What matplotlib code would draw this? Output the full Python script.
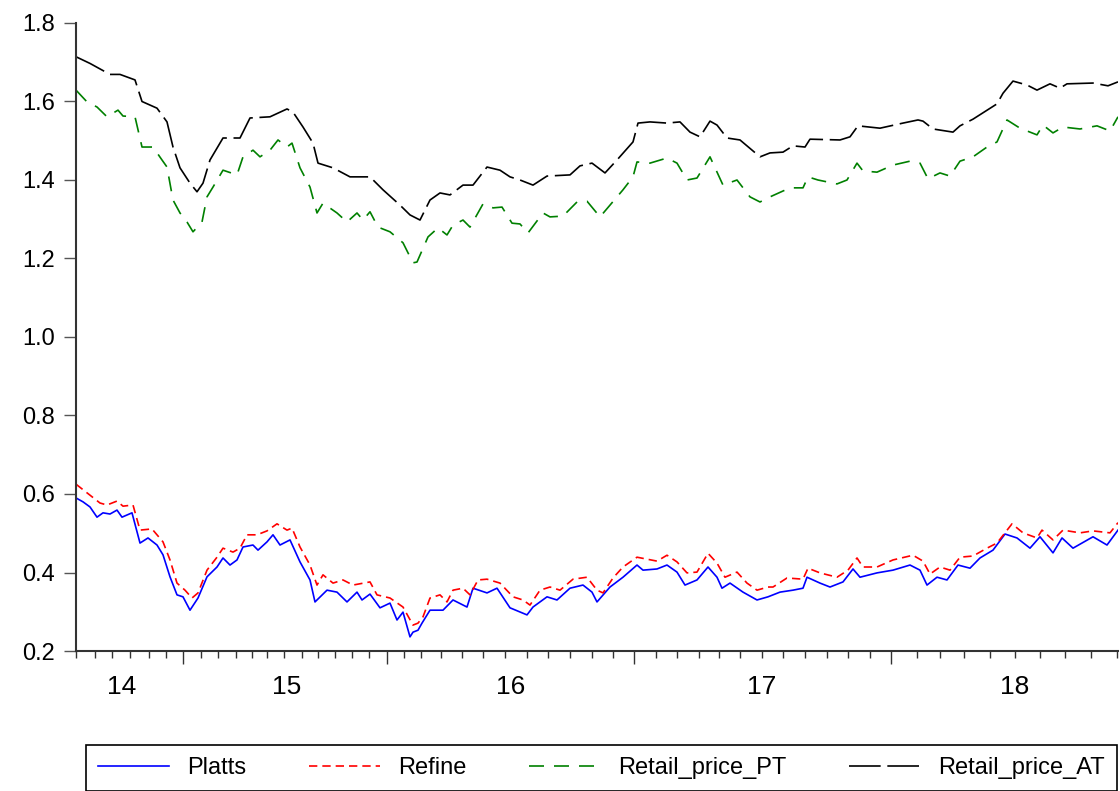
import matplotlib.pyplot as plt
from matplotlib.lines import Line2D

plt.rcParams['font.family'] = ['Liberation Sans', 'DejaVu Sans']

# observation index along the sample (Jul 2014 .. Oct 2018)
platts_obs = [0, 7, 14, 21, 27, 34, 41, 46, 56, 64, 72, 81, 87, 94, 101, 107, 114, 122, 131, 141,
              147, 154, 161, 167, 177, 182, 191, 197, 204, 214, 224, 234, 239, 251, 261, 271, 281,
              286, 294, 304, 314, 321, 327, 334, 337, 342, 346, 354, 367, 377, 391, 397, 411, 421,
              434, 451, 457, 471, 481, 494, 507, 516, 521, 534, 547, 561, 567, 581, 591, 601, 609,
              621, 632, 641, 646, 654, 667, 681, 692, 704, 717, 727, 731, 744, 754, 767, 777, 784,
              801, 817, 834, 844, 851, 861, 871, 882, 894, 904, 917, 929, 941, 954, 964, 977, 986,
              997, 1017, 1031, 1042]
platts = [0.590, 0.580, 0.567, 0.541, 0.552, 0.549, 0.559, 0.541, 0.552, 0.475, 0.488, 0.470, 0.445,
          0.389, 0.343, 0.338, 0.304, 0.335, 0.389, 0.414, 0.437, 0.419, 0.432, 0.465, 0.470, 0.457,
          0.478, 0.496, 0.470, 0.483, 0.427, 0.381, 0.325, 0.355, 0.350, 0.325, 0.350, 0.330, 0.345,
          0.310, 0.322, 0.279, 0.299, 0.236, 0.248, 0.253, 0.271, 0.304, 0.304, 0.330, 0.312, 0.360,
          0.348, 0.360, 0.310, 0.292, 0.312, 0.338, 0.330, 0.360, 0.368, 0.350, 0.325, 0.363, 0.388,
          0.419, 0.406, 0.409, 0.419, 0.401, 0.368, 0.381, 0.414, 0.388, 0.360, 0.373, 0.350, 0.330,
          0.338, 0.350, 0.355, 0.360, 0.388, 0.373, 0.363, 0.376, 0.409, 0.388, 0.399, 0.406, 0.419,
          0.406, 0.368, 0.388, 0.381, 0.419, 0.411, 0.437, 0.457, 0.498, 0.488, 0.462, 0.491, 0.450,
          0.488, 0.462, 0.491, 0.470, 0.508]

refine_obs = [0, 14, 24, 31, 41, 47, 57, 64, 76, 87, 94, 101, 109, 116, 122, 131, 141, 147, 157, 164,
              171, 181, 191, 201, 211, 216, 224, 234, 241, 247, 257, 267, 277, 294, 301, 314, 327,
              337, 342, 347, 354, 364, 371, 377, 387, 394, 402, 411, 424, 437, 447, 454, 464, 474,
              484, 497, 511, 521, 527, 537, 547, 561, 571, 581, 591, 601, 611, 621, 632, 641, 649,
              661, 671, 681, 692, 697, 711, 727, 732, 744, 761, 772, 781, 787, 801, 817, 837, 847,
              854, 864, 874, 884, 897, 911, 921, 936, 947, 961, 966, 977, 987, 1004, 1017, 1034, 1042]
refine = [0.625, 0.597, 0.577, 0.572, 0.582, 0.569, 0.572, 0.508, 0.511, 0.478, 0.432, 0.373, 0.355,
          0.335, 0.348, 0.406, 0.439, 0.462, 0.452, 0.462, 0.496, 0.496, 0.506, 0.524, 0.508, 0.513,
          0.465, 0.419, 0.368, 0.394, 0.373, 0.381, 0.368, 0.376, 0.343, 0.335, 0.312, 0.266, 0.271,
          0.287, 0.335, 0.343, 0.325, 0.355, 0.360, 0.343, 0.381, 0.383, 0.373, 0.338, 0.330, 0.317,
          0.355, 0.363, 0.355, 0.383, 0.388, 0.355, 0.348, 0.386, 0.414, 0.439, 0.434, 0.429, 0.444,
          0.427, 0.399, 0.401, 0.449, 0.424, 0.388, 0.401, 0.373, 0.355, 0.363, 0.363, 0.386, 0.383,
          0.411, 0.399, 0.388, 0.406, 0.437, 0.414, 0.414, 0.432, 0.444, 0.429, 0.396, 0.414, 0.406,
          0.439, 0.442, 0.462, 0.475, 0.524, 0.501, 0.488, 0.508, 0.483, 0.508, 0.501, 0.506, 0.501,
          0.527]

pt_obs = [0, 11, 21, 31, 42, 47, 59, 66, 77, 86, 91, 97, 104, 111, 117, 126, 131, 137, 147, 161, 167,
          177, 184, 194, 202, 211, 216, 224, 234, 241, 247, 261, 271, 281, 287, 294, 302, 314, 327,
          337, 341, 352, 362, 371, 377, 387, 394, 407, 417, 426, 436, 444, 452, 467, 474, 487, 501,
          511, 524, 534, 547, 557, 561, 574, 591, 601, 611, 621, 634, 647, 661, 674, 684, 694, 714,
          727, 732, 742, 761, 771, 781, 787, 801, 817, 834, 844, 852, 864, 874, 884, 897, 911, 921,
          931, 944, 961, 967, 977, 987, 1004, 1021, 1034, 1042]
retail_pt = [1.629, 1.599, 1.586, 1.561, 1.578, 1.563, 1.561, 1.484, 1.484, 1.451, 1.433, 1.349, 1.316,
             1.293, 1.268, 1.293, 1.357, 1.382, 1.425, 1.413, 1.459, 1.476, 1.459, 1.476, 1.502, 1.484,
             1.494, 1.431, 1.382, 1.316, 1.341, 1.316, 1.293, 1.316, 1.298, 1.319, 1.280, 1.268, 1.240,
             1.189, 1.191, 1.255, 1.278, 1.260, 1.285, 1.298, 1.280, 1.339, 1.329, 1.331, 1.290, 1.288,
             1.265, 1.316, 1.306, 1.308, 1.344, 1.346, 1.306, 1.336, 1.375, 1.408, 1.446, 1.443, 1.456,
             1.443, 1.400, 1.405, 1.459, 1.387, 1.400, 1.357, 1.344, 1.357, 1.380, 1.380, 1.408, 1.400,
             1.390, 1.400, 1.443, 1.423, 1.420, 1.438, 1.448, 1.443, 1.403, 1.418, 1.410, 1.448, 1.459,
             1.484, 1.497, 1.553, 1.532, 1.515, 1.540, 1.520, 1.535, 1.530, 1.538, 1.525, 1.561]

at_obs = [0, 14, 34, 44, 59, 66, 81, 91, 97, 104, 114, 121, 127, 134, 147, 164, 174, 194, 211, 217,
          227, 237, 242, 257, 274, 294, 307, 324, 334, 344, 354, 364, 374, 387, 397, 411, 424, 434,
          444, 457, 471, 494, 504, 516, 529, 541, 557, 562, 574, 591, 604, 614, 624, 634, 641, 651,
          664, 684, 694, 707, 717, 729, 734, 764, 774, 782, 804, 827, 842, 847, 857, 877, 884, 897,
          921, 927, 937, 951, 961, 974, 984, 991, 1017, 1032, 1042]
retail_at = [1.714, 1.697, 1.669, 1.669, 1.655, 1.600, 1.583, 1.548, 1.484, 1.431, 1.392, 1.370, 1.392,
             1.451, 1.507, 1.507, 1.558, 1.561, 1.581, 1.573, 1.535, 1.494, 1.443, 1.431, 1.408, 1.408,
             1.375, 1.336, 1.311, 1.298, 1.349, 1.367, 1.362, 1.387, 1.387, 1.433, 1.425, 1.408, 1.400,
             1.387, 1.410, 1.413, 1.436, 1.443, 1.418, 1.451, 1.497, 1.545, 1.548, 1.545, 1.548, 1.522,
             1.510, 1.550, 1.540, 1.507, 1.502, 1.459, 1.469, 1.471, 1.487, 1.484, 1.504, 1.502, 1.510,
             1.538, 1.532, 1.545, 1.553, 1.550, 1.530, 1.522, 1.538, 1.555, 1.594, 1.621, 1.652, 1.642,
             1.629, 1.645, 1.634, 1.645, 1.647, 1.640, 1.650]

# month starts (observation index) and year boundaries
month_ticks = [0, 19, 36, 54, 73, 90, 107, 125, 142, 160, 176, 191, 208, 226, 242, 259, 276, 293,
               311, 328, 345, 365, 386, 407, 429, 451, 472, 494, 516, 537, 558, 580, 601, 623, 643,
               664, 686, 707, 729, 751, 772, 794, 815, 841, 864, 888, 914, 939, 964, 989, 1015, 1041]
year_ticks = [107, 311, 558, 815]
year_labels = ['14', '15', '16', '17', '18']
year_label_pos = [46, 211, 435, 686, 939]
y_ticks = [0.2, 0.4, 0.6, 0.8, 1.0, 1.2, 1.4, 1.6, 1.8]

fig = plt.figure(figsize=(11.2, 7.91), dpi=100)
ax = fig.add_axes([76 / 1120, 1 - 651 / 791, 1042 / 1120, 628 / 791])

lw = 1.2
styles = {
    'Platts': dict(color='#0000ff'),
    'Refine': dict(color='#ff0000', dashes=(5, 3)),
    'Retail_price_PT': dict(color='#008000', dashes=(9, 6)),
    'Retail_price_AT': dict(color='black', dashes=(19, 4)),
}
ax.plot(platts_obs, platts, lw=lw, **styles['Platts'])
ax.plot(refine_obs, refine, lw=lw, **styles['Refine'])
ax.plot(pt_obs, retail_pt, lw=lw, **styles['Retail_price_PT'])
ax.plot(at_obs, retail_at, lw=lw, **styles['Retail_price_AT'])

ax.set_xlim(0, 1042)
ax.set_ylim(0.2, 1.8)
for s in ['top', 'right']:
    ax.spines[s].set_visible(False)
for s in ['left', 'bottom']:
    ax.spines[s].set_linewidth(1.5)
    ax.spines[s].set_color('#333333')

ax.set_yticks(y_ticks)
ax.set_yticklabels([f'{v:.1f}' for v in y_ticks])
ax.tick_params(axis='y', length=9, width=1, pad=6, labelsize=17, color='#555555')

ax.set_xticks(year_ticks)
ax.set_xticklabels([])
ax.set_xticks([m for m in month_ticks if m not in year_ticks], minor=True)
ax.tick_params(axis='x', which='major', length=9.5, width=1, color='#333333')
ax.tick_params(axis='x', which='minor', length=5, width=1, color='#333333')

for lab, pos in zip(year_labels, year_label_pos):
    ax.annotate(lab, xy=(pos, 0), xycoords=('data', 'axes fraction'),
                xytext=(0, -26), textcoords='offset points',
                ha='center', va='center', fontsize=19)

labels = ['Platts', 'Refine', 'Retail_price_PT', 'Retail_price_AT']
handles = [Line2D([], [], lw=lw, **styles[k]) for k in labels]
leg = fig.legend(handles, labels, ncol=4, loc='upper left',
                 bbox_to_anchor=(86 / 1120, 0, 1031 / 1120, 1 - 745 / 791),
                 mode='expand', fontsize=17, handlelength=3.0, handletextpad=0.8,
                 borderpad=0.5, borderaxespad=0, frameon=True, fancybox=False,
                 framealpha=1, edgecolor='black')
leg.get_frame().set_linewidth(1.2)

fig.savefig('out.png', dpi=100)
